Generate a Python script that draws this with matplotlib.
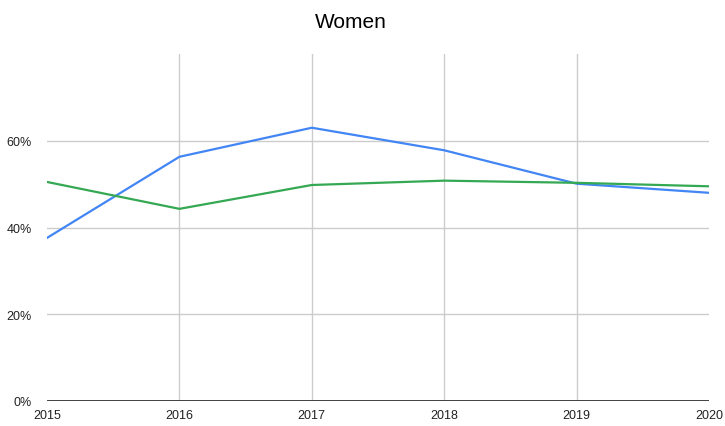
import matplotlib
matplotlib.use("Agg")
import matplotlib.pyplot as plt

plt.rcParams['font.family'] = ['Liberation Sans', 'DejaVu Sans']

years = [2015, 2016, 2017, 2018, 2019, 2020]
blue_vals = [37.6, 56.3, 63.0, 57.8, 50.1, 48.0]
green_vals = [50.5, 44.3, 49.8, 50.8, 50.3, 49.5]
y_ticks = [0, 20, 40, 60]
y_labels = ['0%', '20%', '40%', '60%']

fig = plt.figure(figsize=(7.25, 4.27), dpi=100)
ax = fig.add_axes([47 / 725, 25 / 427, 662 / 725, 347 / 427])

# gridlines like google charts: horizontal at ticks, vertical only inside
for t in y_ticks[1:]:
    ax.axhline(t, color='#cccccc', linewidth=1, zorder=1)
for yr in years[1:-1]:
    ax.axvline(yr, color='#cccccc', linewidth=1, zorder=1)
ax.axhline(0, color='#333333', linewidth=1.3, zorder=2)

ax.plot(years, blue_vals, color='#4285F4', linewidth=1.6, zorder=3)
ax.plot(years, green_vals, color='#34A853', linewidth=1.6, zorder=3)

ax.set_xlim(years[0], years[-1])
ax.set_ylim(0, 80)
ax.set_xticks(years)
ax.set_xticklabels([str(y) for y in years])
ax.set_yticks(y_ticks)
ax.set_yticklabels(y_labels)
ax.tick_params(axis='both', length=0, labelsize=9, colors='#222222')
ax.tick_params(axis='x', pad=6)
ax.tick_params(axis='y', pad=11)
for s in ax.spines.values():
    s.set_visible(False)

fig.text(351 / 725, 1 - 23 / 427, 'Women', ha='center', va='center',
         fontsize=15, color='#000000')

fig.savefig('out.png', dpi=100)
